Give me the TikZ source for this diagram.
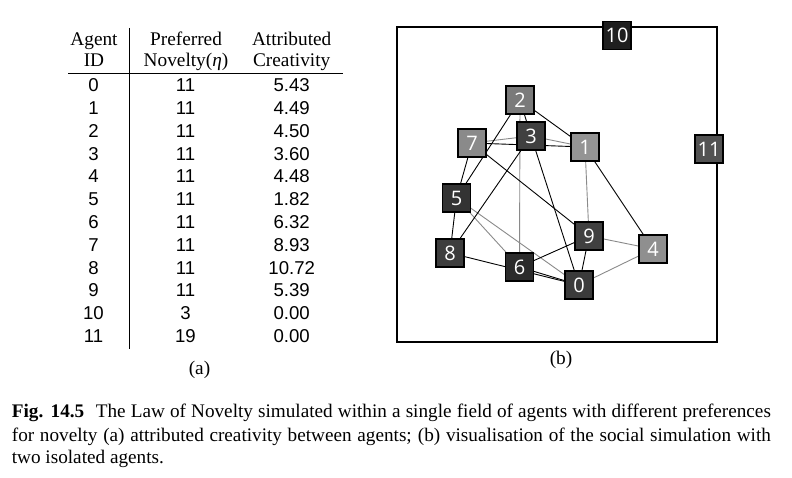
\documentclass[tikz,border=0pt]{standalone}
\usepackage{fontspec}
\usetikzlibrary{backgrounds}
\newfontfamily\tms{Liberation Serif}
\newfontfamily\hlv{Liberation Sans}
\newfontfamily\osans{Open Sans}
\definecolor{edgegray}{HTML}{8A8A8A}
\tikzset{
  agent/.style={draw=black, line width=1.6bp, minimum size=28bp, inner sep=0pt,
    text=white, font=\osans\fontsize{20bp}{20bp}\selectfont},
  blk/.style={draw=black, line width=0.9bp},
  gry/.style={draw=edgegray, line width=0.9bp},
  hdr/.style={anchor=base, inner sep=0pt, font=\tms\fontsize{19.3bp}{23bp}\selectfont},
  num/.style={anchor=base, inner sep=0pt, font=\hlv\fontsize{18.6bp}{22bp}\selectfont},
  captext/.style={anchor=base west, inner sep=0pt, font=\tms\fontsize{19.2bp}{23bp}\selectfont},
}
\begin{document}
\begin{tikzpicture}[x=1bp,y=-1bp]
\useasboundingbox (0,0) rectangle (792,478);
% ---------- table ----------
\node[hdr] (h1a) at (94,46) {Agent};
\node[hdr] (h1b) at (94,66.7) {ID};
\node[hdr] (h2a) at (186,46) {Preferred};
\node[hdr] (h2b) at (186,66.7) {Novelty(\textit{η})};
\node[hdr] (h3a) at (291.7,46) {Attributed};
\node[hdr] (h3b) at (291.7,66.7) {Creativity};
\coordinate (hl) at (68,74);
\coordinate (hr) at (343,74);
\coordinate (vt) at (129.3,28);
\coordinate (vb) at (129.3,349);
\draw[line width=1bp] (hl) -- (hr);
\draw[line width=1bp] (vt) -- (vb);
\foreach \id/\nov/\cre [count=\i from 0] in {0/11/5.43,1/11/4.49,2/11/4.50,3/11/3.60,4/11/4.48,5/11/1.82,6/11/6.32,7/11/8.93,8/11/10.72,9/11/5.39,10/3/0.00,11/19/0.00}{
  \node[num] (ida\i) at (93.5,91.7+22.8*\i) {\id};
  \node[num] (nov\i) at (185.5,91.7+22.8*\i) {\nov};
  \node[num] (cre\i) at (291.7,91.7+22.8*\i) {\cre};
}
\node[hdr] (suba) at (199.5,374) {(a)};
% ---------- graph ----------
\node[agent, fill=black!88] (n10) at (617,35.5) {10};
\node[agent, fill=black!52] (n2) at (520,100) {2};
\node[agent, fill=black!75] (n3) at (531,136) {3};
\node[agent, fill=black!46] (n7) at (472,143) {7};
\node[agent, fill=black!42] (n1) at (585,147) {1};
\node[agent, fill=black!68] (n11) at (709,149) {11};
\node[agent, fill=black!80] (n5) at (456.5,198) {5};
\node[agent, fill=black!76] (n8) at (450,253) {8};
\node[agent, fill=black!83] (n6) at (519.5,267) {6};
\node[agent, fill=black!75] (n9) at (589,236) {9};
\node[agent, fill=black!44] (n4) at (653,249) {4};
\node[agent, fill=black!77] (n0) at (579,285) {0};
\coordinate (fnw) at (397,27);
\coordinate (fse) at (717,342);
\begin{pgfonlayer}{background}
  \draw[line width=2bp] (fnw) rectangle (fse);
  % grey edges
  \draw[gry] (n7.center) -- (n3.center);
  \draw[gry] (n3.center) -- (n1.center);
  \draw[gry] (n2.center) -- (n6.center);
  \draw[gry] (n1.center) -- (n9.center);
  \draw[gry] (n5.center) -- (n6.center);
  \draw[gry] (n5.center) -- (n0.center);
  \draw[gry] (n9.center) -- (n4.center);
  \draw[gry] (n0.center) -- (n4.center);
  % black edges
  \draw[blk] (n2.center) -- (n1.center);
  \draw[blk] (n2.center) -- (n5.center);
  \draw[blk] (n2.center) -- (n3.center);
  \draw[blk] (n3.center) -- (n0.center);
  \draw[blk] (n3.center) -- (n8.center);
  \draw[blk] (n7.center) -- (n1.center);
  \draw[blk] (n7.center) -- (n5.center);
  \draw[blk] (n7.center) -- (n9.center);
  \draw[blk] (n1.center) -- (n4.center);
  \draw[blk] (n5.center) -- (n8.center);
  \draw[blk] (n8.center) -- (n0.center);
  \draw[blk] (n6.center) -- (n0.center);
  \draw[blk] (n6.center) -- (n9.center);
  \draw[blk] (n9.center) -- (n0.center);
\end{pgfonlayer}
\node[hdr] (subb) at (561,364) {(b)};
% ---------- caption ----------
\node[captext] (c1) at (11.7,417.7) {\makebox[759bp][s]{\textbf{Fig. 14.5}\hspace{0.6em}The Law of Novelty simulated within a single field of agents with different preferences}};
\node[captext] (c2) at (11.7,441) {\makebox[759bp][s]{for novelty (a) attributed creativity between agents; (b) visualisation of the social simulation with}};
\node[captext] (c3) at (11.7,463.5) {two isolated agents.};
\end{tikzpicture}
\end{document}
